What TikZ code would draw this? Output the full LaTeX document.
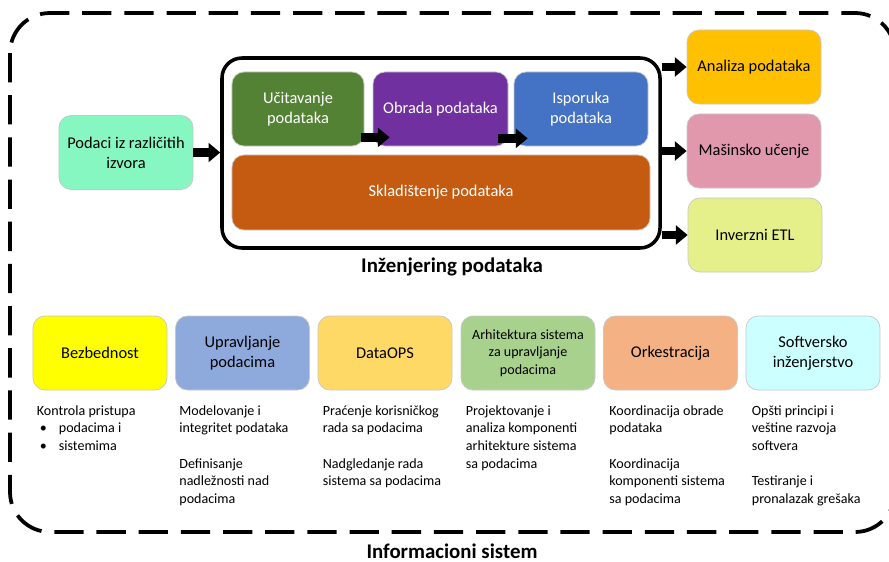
\documentclass[tikz,border=0pt]{standalone}
\usepackage{fontspec}
\setmainfont{Carlito}
\usetikzlibrary{arrows.meta}

\definecolor{izvori}{HTML}{87F7C1}
\definecolor{ucitavanje}{HTML}{548235}
\definecolor{obrada}{HTML}{7030A0}
\definecolor{isporuka}{HTML}{4472C4}
\definecolor{skladistenje}{HTML}{C55A11}
\definecolor{analiza}{HTML}{FFC000}
\definecolor{masinsko}{HTML}{E298AC}
\definecolor{inverzni}{HTML}{E6F08B}
\definecolor{bezbednost}{HTML}{FFFF00}
\definecolor{upravljanje}{HTML}{8EA9DB}
\definecolor{dataops}{HTML}{FFD966}
\definecolor{arhitektura}{HTML}{A9D18E}
\definecolor{orkestracija}{HTML}{F4B183}
\definecolor{softversko}{HTML}{CCFFFF}
\definecolor{ivica}{HTML}{C8C8C8}

\tikzset{
    blok/.style={draw=ivica, line width=0.6pt, rounded corners=0.36cm, minimum width=4.02cm,
        minimum height=2.22cm, align=center, inner sep=2pt, font=\fontsize{14}{17}\selectfont},
    opis/.style={anchor=north west, align=left, inner sep=0pt, font=\fontsize{12}{15}\selectfont},
    naslov/.style={font=\bfseries\fontsize{17.8}{20}\selectfont},
    strelica/.style={line width=7.5pt, -{Triangle[length=10pt,width=16pt]}},
    okvir/.style={line width=3.2pt, dash pattern=on 25pt off 11pt, rounded corners=1.2cm}
}

\begin{document}
\begin{tikzpicture}[x=0.03cm, y=-0.03cm]
        \useasboundingbox (0,0) rectangle (889,562);

        \draw[okvir] (10,13) rectangle (895,532);

        \node[draw, line width=3pt, rounded corners=0.6cm, minimum width=13.14cm, minimum height=5.7cm] (inzenjering) at (441,153) {};

        \node[blok, fill=izvori] (izvori) at (126,152.5) {Podaci iz različitih\\izvora};
        \node[blok, fill=ucitavanje, text=white, minimum width=3.96cm] (ucitavanje) at (298,109) {Učitavanje\\podataka};
        \node[blok, fill=obrada, text=white, minimum width=4.05cm] (obrada) at (440.5,109) {Obrada podataka};
        \node[blok, fill=isporuka, text=white] (isporuka) at (581,109) {Isporuka\\podataka};
        \node[blok, fill=skladistenje, text=white, minimum width=12.54cm, minimum height=2.25cm] (skladistenje) at (441,192.5) {Skladištenje podataka};

        \node[blok, fill=analiza] (analiza) at (754,67) {Analiza podataka};
        \node[blok, fill=masinsko] (masinsko) at (754,151) {Mašinsko učenje};
        \node[blok, fill=inverzni] (inverzni) at (755,235) {Inverzni ETL};

        \node[naslov] (naslovinz) at (452,267) {Inženjering podataka};

        \draw[strelica] (izvori.east) -- (inzenjering.west |- izvori.east);
        \draw[strelica] ([shift={(-3,-9)}]ucitavanje.south east) -- ([shift={(17,-9)}]obrada.south west);
        \draw[strelica] ([shift={(-10,-8)}]obrada.south east) -- ([shift={(14,-8)}]isporuka.south west);
        \draw[strelica] (inzenjering.east |- analiza.west) -- (analiza.west);
        \draw[strelica] (inzenjering.east |- masinsko.west) -- (masinsko.west);
        \draw[strelica] (inzenjering.east |- inverzni.west) -- (inverzni.west);

        \node[blok, fill=bezbednost] (bezbednost) at (100,353) {Bezbednost};
        \node[blok, fill=upravljanje] (upravljanje) at (242.5,353) {Upravljanje\\podacima};
        \node[blok, fill=dataops] (dataops) at (385,353) {DataOPS};
        \node[blok, fill=arhitektura, font=\fontsize{12}{15}\selectfont] (arhitektura) at (528,353) {Arhitektura sistema\\za upravljanje\\podacima};
        \node[blok, fill=orkestracija] (orkestracija) at (670.5,353) {Orkestracija};
        \node[blok, fill=softversko] (softversko) at (813,353) {Softversko\\inženjerstvo};

        \node[opis] (bezbednostopis) at ([shift={(4,15)}]bezbednost.south west) {Kontrola pristupa\\
            \makebox[0.66cm][l]{\hspace{0.09cm}\textbullet}podacima i\\
            \makebox[0.66cm][l]{\hspace{0.09cm}\textbullet}sistemima};
        \node[opis] (upravljanjeopis) at ([shift={(4,15)}]upravljanje.south west) {Modelovanje i\\integritet podataka\\[15pt]Definisanje\\nadležnosti nad\\podacima};
        \node[opis] (dataopsopis) at ([shift={(5,15)}]dataops.south west) {Praćenje korisničkog\\rada sa podacima\\[15pt]Nadgledanje rada\\sistema sa podacima};
        \node[opis] (arhitekturaopis) at ([shift={(5,15)}]arhitektura.south west) {Projektovanje i\\analiza komponenti\\arhitekture sistema\\sa podacima};
        \node[opis] (orkestracijaopis) at ([shift={(6,15)}]orkestracija.south west) {Koordinacija obrade\\podataka\\[15pt]Koordinacija\\komponenti sistema\\sa podacima};
        \node[opis] (softverskoopis) at ([shift={(6,15)}]softversko.south west) {Opšti principi i\\veštine razvoja\\softvera\\[15pt]Testiranje i\\pronalazak grešaka};

        \node[naslov] (naslovsis) at (452,551) {Informacioni sistem};
\end{tikzpicture}
\end{document}
